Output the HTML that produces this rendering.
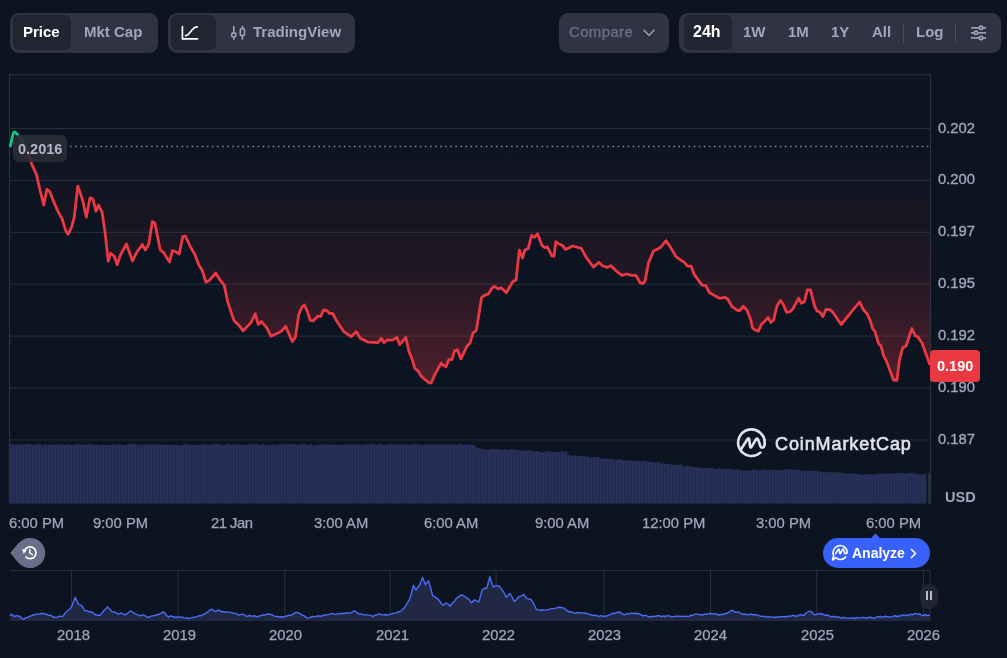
<!DOCTYPE html>
<html><head><meta charset="utf-8">
<style>
*{margin:0;padding:0;box-sizing:border-box}
html,body{width:1007px;height:658px;overflow:hidden;background:#0d1421;font-family:"Liberation Sans",sans-serif;}
div{will-change:transform}
.abs{position:absolute}
.grp{position:absolute;top:13px;height:40px;background:#303344;border-radius:9px}
.sel{position:absolute;top:2px;height:35px;background:#222531;border-radius:6px}
.t{position:absolute;white-space:nowrap;font-weight:bold;font-size:15px;line-height:18px;color:#a1a7bb}
.yl{position:absolute;left:938px;font-size:14.8px;-webkit-text-stroke:0.35px #a1a7bb;line-height:18px;color:#a1a7bb;white-space:nowrap}
.xl{position:absolute;top:514px;font-size:14.8px;-webkit-text-stroke:0.25px #a1a7bb;line-height:18px;color:#a1a7bb;white-space:nowrap}
.nl{position:absolute;top:626px;font-size:14.8px;-webkit-text-stroke:0.25px #a1a7bb;line-height:18px;color:#a1a7bb;white-space:nowrap}
</style></head><body>
<svg width="1007" height="658" viewBox="0 0 1007 658" style="position:absolute;left:0;top:0">
<defs><linearGradient id="rg" x1="0" y1="146" x2="0" y2="383" gradientUnits="userSpaceOnUse"><stop offset="0" stop-color="#ea3943" stop-opacity="0.0"/><stop offset="0.5" stop-color="#ea3943" stop-opacity="0.08"/><stop offset="1" stop-color="#ea3943" stop-opacity="0.3"/></linearGradient></defs>
<path d="M9.5,504 V74.7 H930.5 V504" fill="none" stroke="#30343f" stroke-width="1.1"/>
<line x1="9" y1="128.5" x2="930" y2="128.5" stroke="#2b2f3c" stroke-width="1"/>
<line x1="9" y1="180.4" x2="930" y2="180.4" stroke="#2b2f3c" stroke-width="1"/>
<line x1="9" y1="232.3" x2="930" y2="232.3" stroke="#2b2f3c" stroke-width="1"/>
<line x1="9" y1="284.2" x2="930" y2="284.2" stroke="#2b2f3c" stroke-width="1"/>
<line x1="9" y1="336.1" x2="930" y2="336.1" stroke="#2b2f3c" stroke-width="1"/>
<line x1="9" y1="388.0" x2="930" y2="388.0" stroke="#2b2f3c" stroke-width="1"/>
<line x1="9" y1="439.9" x2="930" y2="439.9" stroke="#2b2f3c" stroke-width="1"/>
<path d="M25,146 L25.0,146.0 L27.0,150.0 L31.1,162.6 L36.5,174.7 L40.1,190.5 L43.8,205.1 L46.9,189.3 L49.8,191.7 L54.7,203.9 L58.4,212.4 L62.0,218.5 L65.7,230.6 L68.1,234.3 L71.7,227.0 L74.2,217.3 L77.8,186.1 L82.7,200.2 L86.3,217.3 L90.0,197.8 L92.9,199.0 L96.0,211.2 L98.5,205.1 L102.1,212.4 L105.0,231.9 L108.2,261.0 L110.6,253.3 L114.3,256.2 L117.2,264.7 L120.4,255.0 L126.4,244.0 L132.5,261.0 L136.2,253.3 L142.3,244.5 L145.4,250.1 L148.8,244.0 L152.4,221.4 L154.9,223.1 L157.3,235.3 L160.2,249.8 L163.4,252.3 L169.5,262.0 L172.4,250.6 L175.5,251.6 L179.2,254.0 L182.8,236.5 L185.3,236.0 L190.1,246.2 L195.0,254.7 L198.6,264.4 L202.3,270.5 L205.9,282.2 L209.6,280.2 L215.7,273.0 L219.3,279.0 L224.2,285.1 L227.8,302.1 L233.9,320.4 L238.8,325.2 L243.1,330.8 L247.3,326.4 L250.9,322.8 L255.3,313.8 L258.2,324.5 L261.4,321.6 L266.7,327.7 L270.9,336.2 L276.4,333.7 L281.3,331.3 L285.7,326.4 L292.3,341.5 L295.4,337.4 L298.8,314.3 L302.0,307.0 L304.4,305.0 L307.3,311.1 L310.2,320.3 L313.4,320.8 L317.5,316.4 L320.7,316.4 L323.6,309.8 L326.7,310.6 L329.7,313.5 L332.8,313.5 L336.5,320.8 L343.8,331.7 L351.1,336.6 L356.4,331.7 L360.3,338.3 L368.1,342.2 L377.8,342.7 L381.5,338.3 L383.9,342.7 L387.5,339.8 L392.4,340.2 L396.8,337.3 L399.7,344.6 L405.8,337.3 L408.9,351.2 L412.3,359.7 L414.8,368.2 L418.4,371.4 L421.6,376.7 L428.9,382.8 L431.3,382.8 L435.0,374.3 L441.0,363.3 L445.9,367.0 L448.8,359.7 L452.0,359.7 L454.4,351.0 L457.3,349.8 L460.9,358.8 L467.0,346.2 L469.9,343.3 L473.1,332.8 L476.3,330.4 L481.6,297.5 L484.0,295.6 L488.4,293.9 L492.6,287.3 L495.0,286.6 L498.1,289.0 L501.1,287.8 L506.4,292.7 L512.7,281.7 L516.1,280.0 L519.3,250.1 L522.5,258.1 L524.9,250.1 L528.3,248.4 L531.5,235.5 L534.6,237.2 L537.5,233.8 L541.9,245.3 L544.8,247.7 L547.3,247.0 L552.1,256.2 L554.1,256.2 L555.8,241.6 L558.9,244.0 L562.3,245.3 L565.5,249.4 L572.8,246.0 L576.4,247.0 L581.3,248.4 L586.2,257.4 L593.5,267.1 L598.8,262.3 L602.4,265.7 L607.3,267.4 L610.9,265.7 L615.8,270.6 L621.9,275.4 L626.7,274.0 L631.6,275.4 L636.0,275.4 L640.1,282.7 L642.6,283.7 L645.0,281.3 L648.6,262.6 L653.5,251.1 L657.1,249.2 L660.8,247.2 L666.1,240.7 L670.5,247.2 L675.9,256.5 L679.0,258.9 L684.6,262.6 L687.5,266.2 L691.2,266.2 L694.3,274.7 L702.1,285.2 L705.8,285.7 L709.4,292.5 L714.3,295.4 L719.6,298.3 L725.2,297.3 L727.7,299.0 L731.8,306.3 L737.4,310.5 L739.8,310.5 L743.5,306.3 L747.1,310.5 L750.8,319.7 L752.3,327.5 L754.6,329.8 L758.4,331.3 L761.4,324.5 L768.2,317.6 L771.0,322.6 L773.6,319.9 L777.1,305.5 L780.4,300.5 L783.1,304.0 L786.5,312.3 L790.3,311.6 L792.6,309.3 L798.6,298.3 L801.4,303.2 L804.4,301.7 L807.4,289.8 L810.5,289.8 L814.6,306.2 L816.9,310.8 L819.9,312.3 L822.9,316.6 L826.0,309.3 L829.8,309.6 L832.8,312.3 L841.2,324.5 L854.2,308.4 L859.7,302.1 L863.4,309.8 L866.8,313.4 L870.1,320.1 L872.6,328.5 L875.1,331.8 L878.5,343.5 L881.0,346.0 L883.5,355.3 L886.8,361.9 L893.5,380.0 L896.9,380.3 L899.4,360.3 L902.7,347.7 L906.1,346.0 L911.9,328.5 L915.3,336.0 L917.8,336.9 L921.9,342.7 L929.5,363.6 L930.0,365.0 L930,146 Z" fill="url(#rg)"/>
<line x1="70" y1="146.5" x2="930" y2="146.5" stroke="#9fb0b8" stroke-width="1.5" stroke-dasharray="1.6 3.47" opacity="0.75"/>
<path d="M10.4,146.0 L12.0,138.5 L13.4,132.6 L15.0,132.0 L17.5,134.6 L22.0,140.0 L25.0,146.0" fill="none" stroke="#16c784" stroke-width="2.8" stroke-linecap="round" stroke-linejoin="round"/>
<path d="M25.0,146.0 L27.0,150.0 L31.1,162.6 L36.5,174.7 L40.1,190.5 L43.8,205.1 L46.9,189.3 L49.8,191.7 L54.7,203.9 L58.4,212.4 L62.0,218.5 L65.7,230.6 L68.1,234.3 L71.7,227.0 L74.2,217.3 L77.8,186.1 L82.7,200.2 L86.3,217.3 L90.0,197.8 L92.9,199.0 L96.0,211.2 L98.5,205.1 L102.1,212.4 L105.0,231.9 L108.2,261.0 L110.6,253.3 L114.3,256.2 L117.2,264.7 L120.4,255.0 L126.4,244.0 L132.5,261.0 L136.2,253.3 L142.3,244.5 L145.4,250.1 L148.8,244.0 L152.4,221.4 L154.9,223.1 L157.3,235.3 L160.2,249.8 L163.4,252.3 L169.5,262.0 L172.4,250.6 L175.5,251.6 L179.2,254.0 L182.8,236.5 L185.3,236.0 L190.1,246.2 L195.0,254.7 L198.6,264.4 L202.3,270.5 L205.9,282.2 L209.6,280.2 L215.7,273.0 L219.3,279.0 L224.2,285.1 L227.8,302.1 L233.9,320.4 L238.8,325.2 L243.1,330.8 L247.3,326.4 L250.9,322.8 L255.3,313.8 L258.2,324.5 L261.4,321.6 L266.7,327.7 L270.9,336.2 L276.4,333.7 L281.3,331.3 L285.7,326.4 L292.3,341.5 L295.4,337.4 L298.8,314.3 L302.0,307.0 L304.4,305.0 L307.3,311.1 L310.2,320.3 L313.4,320.8 L317.5,316.4 L320.7,316.4 L323.6,309.8 L326.7,310.6 L329.7,313.5 L332.8,313.5 L336.5,320.8 L343.8,331.7 L351.1,336.6 L356.4,331.7 L360.3,338.3 L368.1,342.2 L377.8,342.7 L381.5,338.3 L383.9,342.7 L387.5,339.8 L392.4,340.2 L396.8,337.3 L399.7,344.6 L405.8,337.3 L408.9,351.2 L412.3,359.7 L414.8,368.2 L418.4,371.4 L421.6,376.7 L428.9,382.8 L431.3,382.8 L435.0,374.3 L441.0,363.3 L445.9,367.0 L448.8,359.7 L452.0,359.7 L454.4,351.0 L457.3,349.8 L460.9,358.8 L467.0,346.2 L469.9,343.3 L473.1,332.8 L476.3,330.4 L481.6,297.5 L484.0,295.6 L488.4,293.9 L492.6,287.3 L495.0,286.6 L498.1,289.0 L501.1,287.8 L506.4,292.7 L512.7,281.7 L516.1,280.0 L519.3,250.1 L522.5,258.1 L524.9,250.1 L528.3,248.4 L531.5,235.5 L534.6,237.2 L537.5,233.8 L541.9,245.3 L544.8,247.7 L547.3,247.0 L552.1,256.2 L554.1,256.2 L555.8,241.6 L558.9,244.0 L562.3,245.3 L565.5,249.4 L572.8,246.0 L576.4,247.0 L581.3,248.4 L586.2,257.4 L593.5,267.1 L598.8,262.3 L602.4,265.7 L607.3,267.4 L610.9,265.7 L615.8,270.6 L621.9,275.4 L626.7,274.0 L631.6,275.4 L636.0,275.4 L640.1,282.7 L642.6,283.7 L645.0,281.3 L648.6,262.6 L653.5,251.1 L657.1,249.2 L660.8,247.2 L666.1,240.7 L670.5,247.2 L675.9,256.5 L679.0,258.9 L684.6,262.6 L687.5,266.2 L691.2,266.2 L694.3,274.7 L702.1,285.2 L705.8,285.7 L709.4,292.5 L714.3,295.4 L719.6,298.3 L725.2,297.3 L727.7,299.0 L731.8,306.3 L737.4,310.5 L739.8,310.5 L743.5,306.3 L747.1,310.5 L750.8,319.7 L752.3,327.5 L754.6,329.8 L758.4,331.3 L761.4,324.5 L768.2,317.6 L771.0,322.6 L773.6,319.9 L777.1,305.5 L780.4,300.5 L783.1,304.0 L786.5,312.3 L790.3,311.6 L792.6,309.3 L798.6,298.3 L801.4,303.2 L804.4,301.7 L807.4,289.8 L810.5,289.8 L814.6,306.2 L816.9,310.8 L819.9,312.3 L822.9,316.6 L826.0,309.3 L829.8,309.6 L832.8,312.3 L841.2,324.5 L854.2,308.4 L859.7,302.1 L863.4,309.8 L866.8,313.4 L870.1,320.1 L872.6,328.5 L875.1,331.8 L878.5,343.5 L881.0,346.0 L883.5,355.3 L886.8,361.9 L893.5,380.0 L896.9,380.3 L899.4,360.3 L902.7,347.7 L906.1,346.0 L911.9,328.5 L915.3,336.0 L917.8,336.9 L921.9,342.7 L929.5,363.6 L930.0,365.0" fill="none" stroke="#ea3943" stroke-width="2.8" stroke-linejoin="round"/>
<path d="M9,503.5 L9.00,444.3 L12.19,444.3 L12.19,444.7 L15.38,444.7 L15.38,444.4 L18.57,444.4 L18.57,444.7 L21.76,444.7 L21.76,444.8 L24.95,444.8 L24.95,444.1 L28.14,444.1 L28.14,444.0 L31.33,444.0 L31.33,445.0 L34.52,445.0 L34.52,444.3 L37.71,444.3 L37.71,444.3 L40.90,444.3 L40.90,445.2 L44.09,445.2 L44.09,444.6 L47.28,444.6 L47.28,445.0 L50.47,445.0 L50.47,444.6 L53.66,444.6 L53.66,444.8 L56.85,444.8 L56.85,444.2 L60.04,444.2 L60.04,444.8 L63.23,444.8 L63.23,445.0 L66.42,445.0 L66.42,444.6 L69.61,444.6 L69.61,444.9 L72.80,444.9 L72.80,444.8 L75.99,444.8 L75.99,444.1 L79.18,444.1 L79.18,444.9 L82.37,444.9 L82.37,444.7 L85.56,444.7 L85.56,444.4 L88.75,444.4 L88.75,444.0 L91.94,444.0 L91.94,445.0 L95.13,445.0 L95.13,444.6 L98.32,444.6 L98.32,444.9 L101.51,444.9 L101.51,445.1 L104.70,445.1 L104.70,444.9 L107.89,444.9 L107.89,445.1 L111.08,445.1 L111.08,444.5 L114.27,444.5 L114.27,445.0 L117.46,445.0 L117.46,444.5 L120.65,444.5 L120.65,445.1 L123.84,445.1 L123.84,445.1 L127.03,445.1 L127.03,444.1 L130.22,444.1 L130.22,444.2 L133.41,444.2 L133.41,444.3 L136.60,444.3 L136.60,445.2 L139.79,445.2 L139.79,444.5 L142.98,444.5 L142.98,444.8 L146.17,444.8 L146.17,444.4 L149.36,444.4 L149.36,444.6 L152.55,444.6 L152.55,444.5 L155.74,444.5 L155.74,444.4 L158.93,444.4 L158.93,444.7 L162.12,444.7 L162.12,444.7 L165.31,444.7 L165.31,445.1 L168.50,445.1 L168.50,444.8 L171.69,444.8 L171.69,445.1 L174.88,445.1 L174.88,445.0 L178.07,445.0 L178.07,445.2 L181.26,445.2 L181.26,444.8 L184.45,444.8 L184.45,444.2 L187.64,444.2 L187.64,445.0 L190.83,445.0 L190.83,445.2 L194.02,445.2 L194.02,445.1 L197.21,445.1 L197.21,444.7 L200.40,444.7 L200.40,444.9 L203.59,444.9 L203.59,444.3 L206.78,444.3 L206.78,445.0 L209.97,445.0 L209.97,444.7 L213.16,444.7 L213.16,444.3 L216.35,444.3 L216.35,444.1 L219.54,444.1 L219.54,445.0 L222.73,445.0 L222.73,445.2 L225.92,445.2 L225.92,444.1 L229.11,444.1 L229.11,445.0 L232.30,445.0 L232.30,444.5 L235.49,444.5 L235.49,444.2 L238.68,444.2 L238.68,444.4 L241.87,444.4 L241.87,444.9 L245.06,444.9 L245.06,445.0 L248.25,445.0 L248.25,444.1 L251.44,444.1 L251.44,444.7 L254.63,444.7 L254.63,444.1 L257.82,444.1 L257.82,444.9 L261.01,444.9 L261.01,444.4 L264.20,444.4 L264.20,445.1 L267.39,445.1 L267.39,445.2 L270.58,445.2 L270.58,444.6 L273.77,444.6 L273.77,445.2 L276.96,445.2 L276.96,444.4 L280.15,444.4 L280.15,444.1 L283.34,444.1 L283.34,444.7 L286.53,444.7 L286.53,444.0 L289.72,444.0 L289.72,444.2 L292.91,444.2 L292.91,444.5 L296.10,444.5 L296.10,444.7 L299.29,444.7 L299.29,444.2 L302.48,444.2 L302.48,444.1 L305.67,444.1 L305.67,445.0 L308.86,445.0 L308.86,444.4 L312.05,444.4 L312.05,445.2 L315.24,445.2 L315.24,445.1 L318.43,445.1 L318.43,444.5 L321.62,444.5 L321.62,444.6 L324.81,444.6 L324.81,444.6 L328.00,444.6 L328.00,444.8 L331.19,444.8 L331.19,444.7 L334.38,444.7 L334.38,444.7 L337.57,444.7 L337.57,444.7 L340.76,444.7 L340.76,445.1 L343.95,445.1 L343.95,444.6 L347.14,444.6 L347.14,444.5 L350.33,444.5 L350.33,444.9 L353.52,444.9 L353.52,444.3 L356.71,444.3 L356.71,444.4 L359.90,444.4 L359.90,445.2 L363.09,445.2 L363.09,444.6 L366.28,444.6 L366.28,444.7 L369.47,444.7 L369.47,444.0 L372.66,444.0 L372.66,444.5 L375.85,444.5 L375.85,444.7 L379.04,444.7 L379.04,444.0 L382.23,444.0 L382.23,444.7 L385.42,444.7 L385.42,444.8 L388.61,444.8 L388.61,444.1 L391.80,444.1 L391.80,444.8 L394.99,444.8 L394.99,444.6 L398.18,444.6 L398.18,444.8 L401.37,444.8 L401.37,444.4 L404.56,444.4 L404.56,444.8 L407.75,444.8 L407.75,444.9 L410.94,444.9 L410.94,444.0 L414.13,444.0 L414.13,444.1 L417.32,444.1 L417.32,444.8 L420.51,444.8 L420.51,445.2 L423.70,445.2 L423.70,444.3 L426.89,444.3 L426.89,444.5 L430.08,444.5 L430.08,444.7 L433.27,444.7 L433.27,444.4 L436.46,444.4 L436.46,444.4 L439.65,444.4 L439.65,444.4 L442.84,444.4 L442.84,444.4 L446.03,444.4 L446.03,444.7 L449.22,444.7 L449.22,444.4 L452.41,444.4 L452.41,444.5 L455.60,444.5 L455.60,444.9 L458.79,444.9 L458.79,444.0 L461.98,444.0 L461.98,444.7 L465.17,444.7 L465.17,444.9 L468.36,444.9 L468.36,444.4 L471.55,444.4 L471.55,445.0 L474.74,445.0 L474.74,447.3 L477.93,447.3 L477.93,448.2 L481.12,448.2 L481.12,449.1 L484.31,449.1 L484.31,449.4 L487.50,449.4 L487.50,449.7 L490.69,449.7 L490.69,449.0 L493.88,449.0 L493.88,449.3 L497.07,449.3 L497.07,449.3 L500.26,449.3 L500.26,449.9 L503.45,449.9 L503.45,449.4 L506.64,449.4 L506.64,449.9 L509.83,449.9 L509.83,449.1 L513.02,449.1 L513.02,449.5 L516.21,449.5 L516.21,450.1 L519.40,450.1 L519.40,450.7 L522.59,450.7 L522.59,450.4 L525.78,450.4 L525.78,450.3 L528.97,450.3 L528.97,450.5 L532.16,450.5 L532.16,451.2 L535.35,451.2 L535.35,451.0 L538.54,451.0 L538.54,452.0 L541.73,452.0 L541.73,452.2 L544.92,452.2 L544.92,451.4 L548.11,451.4 L548.11,451.5 L551.30,451.5 L551.30,452.2 L554.49,452.2 L554.49,452.0 L557.68,452.0 L557.68,452.2 L560.87,452.2 L560.87,451.6 L564.06,451.6 L564.06,451.5 L567.25,451.5 L567.25,454.9 L570.44,454.9 L570.44,455.7 L573.63,455.7 L573.63,455.4 L576.82,455.4 L576.82,455.8 L580.01,455.8 L580.01,456.1 L583.20,456.1 L583.20,456.4 L586.39,456.4 L586.39,456.7 L589.58,456.7 L589.58,457.6 L592.77,457.6 L592.77,456.9 L595.96,456.9 L595.96,457.0 L599.15,457.0 L599.15,458.5 L602.34,458.5 L602.34,458.7 L605.53,458.7 L605.53,459.1 L608.72,459.1 L608.72,458.7 L611.91,458.7 L611.91,459.6 L615.10,459.6 L615.10,459.8 L618.29,459.8 L618.29,459.3 L621.48,459.3 L621.48,460.2 L624.67,460.2 L624.67,460.5 L627.86,460.5 L627.86,460.6 L631.05,460.6 L631.05,460.7 L634.24,460.7 L634.24,460.6 L637.43,460.6 L637.43,461.0 L640.62,461.0 L640.62,461.1 L643.81,461.1 L643.81,461.1 L647.00,461.1 L647.00,462.0 L650.19,462.0 L650.19,461.9 L653.38,461.9 L653.38,462.8 L656.57,462.8 L656.57,462.1 L659.76,462.1 L659.76,463.4 L662.95,463.4 L662.95,463.4 L666.14,463.4 L666.14,464.1 L669.33,464.1 L669.33,464.5 L672.52,464.5 L672.52,464.9 L675.71,464.9 L675.71,464.9 L678.90,464.9 L678.90,464.6 L682.09,464.6 L682.09,465.9 L685.28,465.9 L685.28,465.6 L688.47,465.6 L688.47,466.1 L691.66,466.1 L691.66,467.0 L694.85,467.0 L694.85,467.2 L698.04,467.2 L698.04,467.5 L701.23,467.5 L701.23,468.3 L704.42,468.3 L704.42,468.1 L707.61,468.1 L707.61,467.9 L710.80,467.9 L710.80,468.0 L713.99,468.0 L713.99,468.9 L717.18,468.9 L717.18,468.6 L720.37,468.6 L720.37,469.1 L723.56,469.1 L723.56,468.8 L726.75,468.8 L726.75,468.7 L729.94,468.7 L729.94,469.3 L733.13,469.3 L733.13,469.8 L736.32,469.8 L736.32,469.2 L739.51,469.2 L739.51,470.1 L742.70,470.1 L742.70,470.4 L745.89,470.4 L745.89,470.4 L749.08,470.4 L749.08,470.4 L752.27,470.4 L752.27,469.4 L755.46,469.4 L755.46,470.2 L758.65,470.2 L758.65,470.5 L761.84,470.5 L761.84,469.5 L765.03,469.5 L765.03,469.8 L768.22,469.8 L768.22,469.8 L771.41,469.8 L771.41,470.1 L774.60,470.1 L774.60,470.0 L777.79,470.0 L777.79,470.1 L780.98,470.1 L780.98,470.5 L784.17,470.5 L784.17,469.5 L787.36,469.5 L787.36,469.6 L790.55,469.6 L790.55,469.7 L793.74,469.7 L793.74,469.7 L796.93,469.7 L796.93,469.7 L800.12,469.7 L800.12,470.8 L803.31,470.8 L803.31,470.9 L806.50,470.9 L806.50,470.2 L809.69,470.2 L809.69,470.9 L812.88,470.9 L812.88,470.9 L816.07,470.9 L816.07,471.2 L819.26,471.2 L819.26,471.5 L822.45,471.5 L822.45,472.1 L825.64,472.1 L825.64,472.2 L828.83,472.2 L828.83,472.2 L832.02,472.2 L832.02,472.2 L835.21,472.2 L835.21,472.6 L838.40,472.6 L838.40,472.6 L841.59,472.6 L841.59,473.4 L844.78,473.4 L844.78,473.8 L847.97,473.8 L847.97,473.6 L851.16,473.6 L851.16,473.5 L854.35,473.5 L854.35,473.9 L857.54,473.9 L857.54,474.3 L860.73,474.3 L860.73,474.7 L863.92,474.7 L863.92,474.8 L867.11,474.8 L867.11,474.1 L870.30,474.1 L870.30,474.5 L873.49,474.5 L873.49,474.2 L876.68,474.2 L876.68,473.8 L879.87,473.8 L879.87,473.7 L883.06,473.7 L883.06,473.7 L886.25,473.7 L886.25,473.8 L889.44,473.8 L889.44,473.4 L892.63,473.4 L892.63,473.6 L895.82,473.6 L895.82,473.2 L899.01,473.2 L899.01,473.0 L902.20,473.0 L902.20,473.4 L905.39,473.4 L905.39,473.7 L908.58,473.7 L908.58,473.1 L911.77,473.1 L911.77,473.6 L914.96,473.6 L914.96,473.7 L918.15,473.7 L918.15,474.4 L921.34,474.4 L921.34,474.5 L924.53,474.5 L924.53,474.0 L926.40,474.0 L926.4,503.5 Z" fill="#29315a"/>
<g stroke="#1c2340" stroke-width="0.7" opacity="0.8"><line x1="9.00" y1="444.3" x2="9.00" y2="503.5"/><line x1="12.19" y1="444.7" x2="12.19" y2="503.5"/><line x1="15.38" y1="444.4" x2="15.38" y2="503.5"/><line x1="18.57" y1="444.7" x2="18.57" y2="503.5"/><line x1="21.76" y1="444.8" x2="21.76" y2="503.5"/><line x1="24.95" y1="444.1" x2="24.95" y2="503.5"/><line x1="28.14" y1="444.0" x2="28.14" y2="503.5"/><line x1="31.33" y1="445.0" x2="31.33" y2="503.5"/><line x1="34.52" y1="444.3" x2="34.52" y2="503.5"/><line x1="37.71" y1="444.3" x2="37.71" y2="503.5"/><line x1="40.90" y1="445.2" x2="40.90" y2="503.5"/><line x1="44.09" y1="444.6" x2="44.09" y2="503.5"/><line x1="47.28" y1="445.0" x2="47.28" y2="503.5"/><line x1="50.47" y1="444.6" x2="50.47" y2="503.5"/><line x1="53.66" y1="444.8" x2="53.66" y2="503.5"/><line x1="56.85" y1="444.2" x2="56.85" y2="503.5"/><line x1="60.04" y1="444.8" x2="60.04" y2="503.5"/><line x1="63.23" y1="445.0" x2="63.23" y2="503.5"/><line x1="66.42" y1="444.6" x2="66.42" y2="503.5"/><line x1="69.61" y1="444.9" x2="69.61" y2="503.5"/><line x1="72.80" y1="444.8" x2="72.80" y2="503.5"/><line x1="75.99" y1="444.1" x2="75.99" y2="503.5"/><line x1="79.18" y1="444.9" x2="79.18" y2="503.5"/><line x1="82.37" y1="444.7" x2="82.37" y2="503.5"/><line x1="85.56" y1="444.4" x2="85.56" y2="503.5"/><line x1="88.75" y1="444.0" x2="88.75" y2="503.5"/><line x1="91.94" y1="445.0" x2="91.94" y2="503.5"/><line x1="95.13" y1="444.6" x2="95.13" y2="503.5"/><line x1="98.32" y1="444.9" x2="98.32" y2="503.5"/><line x1="101.51" y1="445.1" x2="101.51" y2="503.5"/><line x1="104.70" y1="444.9" x2="104.70" y2="503.5"/><line x1="107.89" y1="445.1" x2="107.89" y2="503.5"/><line x1="111.08" y1="444.5" x2="111.08" y2="503.5"/><line x1="114.27" y1="445.0" x2="114.27" y2="503.5"/><line x1="117.46" y1="444.5" x2="117.46" y2="503.5"/><line x1="120.65" y1="445.1" x2="120.65" y2="503.5"/><line x1="123.84" y1="445.1" x2="123.84" y2="503.5"/><line x1="127.03" y1="444.1" x2="127.03" y2="503.5"/><line x1="130.22" y1="444.2" x2="130.22" y2="503.5"/><line x1="133.41" y1="444.3" x2="133.41" y2="503.5"/><line x1="136.60" y1="445.2" x2="136.60" y2="503.5"/><line x1="139.79" y1="444.5" x2="139.79" y2="503.5"/><line x1="142.98" y1="444.8" x2="142.98" y2="503.5"/><line x1="146.17" y1="444.4" x2="146.17" y2="503.5"/><line x1="149.36" y1="444.6" x2="149.36" y2="503.5"/><line x1="152.55" y1="444.5" x2="152.55" y2="503.5"/><line x1="155.74" y1="444.4" x2="155.74" y2="503.5"/><line x1="158.93" y1="444.7" x2="158.93" y2="503.5"/><line x1="162.12" y1="444.7" x2="162.12" y2="503.5"/><line x1="165.31" y1="445.1" x2="165.31" y2="503.5"/><line x1="168.50" y1="444.8" x2="168.50" y2="503.5"/><line x1="171.69" y1="445.1" x2="171.69" y2="503.5"/><line x1="174.88" y1="445.0" x2="174.88" y2="503.5"/><line x1="178.07" y1="445.2" x2="178.07" y2="503.5"/><line x1="181.26" y1="444.8" x2="181.26" y2="503.5"/><line x1="184.45" y1="444.2" x2="184.45" y2="503.5"/><line x1="187.64" y1="445.0" x2="187.64" y2="503.5"/><line x1="190.83" y1="445.2" x2="190.83" y2="503.5"/><line x1="194.02" y1="445.1" x2="194.02" y2="503.5"/><line x1="197.21" y1="444.7" x2="197.21" y2="503.5"/><line x1="200.40" y1="444.9" x2="200.40" y2="503.5"/><line x1="203.59" y1="444.3" x2="203.59" y2="503.5"/><line x1="206.78" y1="445.0" x2="206.78" y2="503.5"/><line x1="209.97" y1="444.7" x2="209.97" y2="503.5"/><line x1="213.16" y1="444.3" x2="213.16" y2="503.5"/><line x1="216.35" y1="444.1" x2="216.35" y2="503.5"/><line x1="219.54" y1="445.0" x2="219.54" y2="503.5"/><line x1="222.73" y1="445.2" x2="222.73" y2="503.5"/><line x1="225.92" y1="444.1" x2="225.92" y2="503.5"/><line x1="229.11" y1="445.0" x2="229.11" y2="503.5"/><line x1="232.30" y1="444.5" x2="232.30" y2="503.5"/><line x1="235.49" y1="444.2" x2="235.49" y2="503.5"/><line x1="238.68" y1="444.4" x2="238.68" y2="503.5"/><line x1="241.87" y1="444.9" x2="241.87" y2="503.5"/><line x1="245.06" y1="445.0" x2="245.06" y2="503.5"/><line x1="248.25" y1="444.1" x2="248.25" y2="503.5"/><line x1="251.44" y1="444.7" x2="251.44" y2="503.5"/><line x1="254.63" y1="444.1" x2="254.63" y2="503.5"/><line x1="257.82" y1="444.9" x2="257.82" y2="503.5"/><line x1="261.01" y1="444.4" x2="261.01" y2="503.5"/><line x1="264.20" y1="445.1" x2="264.20" y2="503.5"/><line x1="267.39" y1="445.2" x2="267.39" y2="503.5"/><line x1="270.58" y1="444.6" x2="270.58" y2="503.5"/><line x1="273.77" y1="445.2" x2="273.77" y2="503.5"/><line x1="276.96" y1="444.4" x2="276.96" y2="503.5"/><line x1="280.15" y1="444.1" x2="280.15" y2="503.5"/><line x1="283.34" y1="444.7" x2="283.34" y2="503.5"/><line x1="286.53" y1="444.0" x2="286.53" y2="503.5"/><line x1="289.72" y1="444.2" x2="289.72" y2="503.5"/><line x1="292.91" y1="444.5" x2="292.91" y2="503.5"/><line x1="296.10" y1="444.7" x2="296.10" y2="503.5"/><line x1="299.29" y1="444.2" x2="299.29" y2="503.5"/><line x1="302.48" y1="444.1" x2="302.48" y2="503.5"/><line x1="305.67" y1="445.0" x2="305.67" y2="503.5"/><line x1="308.86" y1="444.4" x2="308.86" y2="503.5"/><line x1="312.05" y1="445.2" x2="312.05" y2="503.5"/><line x1="315.24" y1="445.1" x2="315.24" y2="503.5"/><line x1="318.43" y1="444.5" x2="318.43" y2="503.5"/><line x1="321.62" y1="444.6" x2="321.62" y2="503.5"/><line x1="324.81" y1="444.6" x2="324.81" y2="503.5"/><line x1="328.00" y1="444.8" x2="328.00" y2="503.5"/><line x1="331.19" y1="444.7" x2="331.19" y2="503.5"/><line x1="334.38" y1="444.7" x2="334.38" y2="503.5"/><line x1="337.57" y1="444.7" x2="337.57" y2="503.5"/><line x1="340.76" y1="445.1" x2="340.76" y2="503.5"/><line x1="343.95" y1="444.6" x2="343.95" y2="503.5"/><line x1="347.14" y1="444.5" x2="347.14" y2="503.5"/><line x1="350.33" y1="444.9" x2="350.33" y2="503.5"/><line x1="353.52" y1="444.3" x2="353.52" y2="503.5"/><line x1="356.71" y1="444.4" x2="356.71" y2="503.5"/><line x1="359.90" y1="445.2" x2="359.90" y2="503.5"/><line x1="363.09" y1="444.6" x2="363.09" y2="503.5"/><line x1="366.28" y1="444.7" x2="366.28" y2="503.5"/><line x1="369.47" y1="444.0" x2="369.47" y2="503.5"/><line x1="372.66" y1="444.5" x2="372.66" y2="503.5"/><line x1="375.85" y1="444.7" x2="375.85" y2="503.5"/><line x1="379.04" y1="444.0" x2="379.04" y2="503.5"/><line x1="382.23" y1="444.7" x2="382.23" y2="503.5"/><line x1="385.42" y1="444.8" x2="385.42" y2="503.5"/><line x1="388.61" y1="444.1" x2="388.61" y2="503.5"/><line x1="391.80" y1="444.8" x2="391.80" y2="503.5"/><line x1="394.99" y1="444.6" x2="394.99" y2="503.5"/><line x1="398.18" y1="444.8" x2="398.18" y2="503.5"/><line x1="401.37" y1="444.4" x2="401.37" y2="503.5"/><line x1="404.56" y1="444.8" x2="404.56" y2="503.5"/><line x1="407.75" y1="444.9" x2="407.75" y2="503.5"/><line x1="410.94" y1="444.0" x2="410.94" y2="503.5"/><line x1="414.13" y1="444.1" x2="414.13" y2="503.5"/><line x1="417.32" y1="444.8" x2="417.32" y2="503.5"/><line x1="420.51" y1="445.2" x2="420.51" y2="503.5"/><line x1="423.70" y1="444.3" x2="423.70" y2="503.5"/><line x1="426.89" y1="444.5" x2="426.89" y2="503.5"/><line x1="430.08" y1="444.7" x2="430.08" y2="503.5"/><line x1="433.27" y1="444.4" x2="433.27" y2="503.5"/><line x1="436.46" y1="444.4" x2="436.46" y2="503.5"/><line x1="439.65" y1="444.4" x2="439.65" y2="503.5"/><line x1="442.84" y1="444.4" x2="442.84" y2="503.5"/><line x1="446.03" y1="444.7" x2="446.03" y2="503.5"/><line x1="449.22" y1="444.4" x2="449.22" y2="503.5"/><line x1="452.41" y1="444.5" x2="452.41" y2="503.5"/><line x1="455.60" y1="444.9" x2="455.60" y2="503.5"/><line x1="458.79" y1="444.0" x2="458.79" y2="503.5"/><line x1="461.98" y1="444.7" x2="461.98" y2="503.5"/><line x1="465.17" y1="444.9" x2="465.17" y2="503.5"/><line x1="468.36" y1="444.4" x2="468.36" y2="503.5"/><line x1="471.55" y1="445.0" x2="471.55" y2="503.5"/><line x1="474.74" y1="447.3" x2="474.74" y2="503.5"/><line x1="477.93" y1="448.2" x2="477.93" y2="503.5"/><line x1="481.12" y1="449.1" x2="481.12" y2="503.5"/><line x1="484.31" y1="449.4" x2="484.31" y2="503.5"/><line x1="487.50" y1="449.7" x2="487.50" y2="503.5"/><line x1="490.69" y1="449.0" x2="490.69" y2="503.5"/><line x1="493.88" y1="449.3" x2="493.88" y2="503.5"/><line x1="497.07" y1="449.3" x2="497.07" y2="503.5"/><line x1="500.26" y1="449.9" x2="500.26" y2="503.5"/><line x1="503.45" y1="449.4" x2="503.45" y2="503.5"/><line x1="506.64" y1="449.9" x2="506.64" y2="503.5"/><line x1="509.83" y1="449.1" x2="509.83" y2="503.5"/><line x1="513.02" y1="449.5" x2="513.02" y2="503.5"/><line x1="516.21" y1="450.1" x2="516.21" y2="503.5"/><line x1="519.40" y1="450.7" x2="519.40" y2="503.5"/><line x1="522.59" y1="450.4" x2="522.59" y2="503.5"/><line x1="525.78" y1="450.3" x2="525.78" y2="503.5"/><line x1="528.97" y1="450.5" x2="528.97" y2="503.5"/><line x1="532.16" y1="451.2" x2="532.16" y2="503.5"/><line x1="535.35" y1="451.0" x2="535.35" y2="503.5"/><line x1="538.54" y1="452.0" x2="538.54" y2="503.5"/><line x1="541.73" y1="452.2" x2="541.73" y2="503.5"/><line x1="544.92" y1="451.4" x2="544.92" y2="503.5"/><line x1="548.11" y1="451.5" x2="548.11" y2="503.5"/><line x1="551.30" y1="452.2" x2="551.30" y2="503.5"/><line x1="554.49" y1="452.0" x2="554.49" y2="503.5"/><line x1="557.68" y1="452.2" x2="557.68" y2="503.5"/><line x1="560.87" y1="451.6" x2="560.87" y2="503.5"/><line x1="564.06" y1="451.5" x2="564.06" y2="503.5"/><line x1="567.25" y1="454.9" x2="567.25" y2="503.5"/><line x1="570.44" y1="455.7" x2="570.44" y2="503.5"/><line x1="573.63" y1="455.4" x2="573.63" y2="503.5"/><line x1="576.82" y1="455.8" x2="576.82" y2="503.5"/><line x1="580.01" y1="456.1" x2="580.01" y2="503.5"/><line x1="583.20" y1="456.4" x2="583.20" y2="503.5"/><line x1="586.39" y1="456.7" x2="586.39" y2="503.5"/><line x1="589.58" y1="457.6" x2="589.58" y2="503.5"/><line x1="592.77" y1="456.9" x2="592.77" y2="503.5"/><line x1="595.96" y1="457.0" x2="595.96" y2="503.5"/><line x1="599.15" y1="458.5" x2="599.15" y2="503.5"/><line x1="602.34" y1="458.7" x2="602.34" y2="503.5"/><line x1="605.53" y1="459.1" x2="605.53" y2="503.5"/><line x1="608.72" y1="458.7" x2="608.72" y2="503.5"/><line x1="611.91" y1="459.6" x2="611.91" y2="503.5"/><line x1="615.10" y1="459.8" x2="615.10" y2="503.5"/><line x1="618.29" y1="459.3" x2="618.29" y2="503.5"/><line x1="621.48" y1="460.2" x2="621.48" y2="503.5"/><line x1="624.67" y1="460.5" x2="624.67" y2="503.5"/><line x1="627.86" y1="460.6" x2="627.86" y2="503.5"/><line x1="631.05" y1="460.7" x2="631.05" y2="503.5"/><line x1="634.24" y1="460.6" x2="634.24" y2="503.5"/><line x1="637.43" y1="461.0" x2="637.43" y2="503.5"/><line x1="640.62" y1="461.1" x2="640.62" y2="503.5"/><line x1="643.81" y1="461.1" x2="643.81" y2="503.5"/><line x1="647.00" y1="462.0" x2="647.00" y2="503.5"/><line x1="650.19" y1="461.9" x2="650.19" y2="503.5"/><line x1="653.38" y1="462.8" x2="653.38" y2="503.5"/><line x1="656.57" y1="462.1" x2="656.57" y2="503.5"/><line x1="659.76" y1="463.4" x2="659.76" y2="503.5"/><line x1="662.95" y1="463.4" x2="662.95" y2="503.5"/><line x1="666.14" y1="464.1" x2="666.14" y2="503.5"/><line x1="669.33" y1="464.5" x2="669.33" y2="503.5"/><line x1="672.52" y1="464.9" x2="672.52" y2="503.5"/><line x1="675.71" y1="464.9" x2="675.71" y2="503.5"/><line x1="678.90" y1="464.6" x2="678.90" y2="503.5"/><line x1="682.09" y1="465.9" x2="682.09" y2="503.5"/><line x1="685.28" y1="465.6" x2="685.28" y2="503.5"/><line x1="688.47" y1="466.1" x2="688.47" y2="503.5"/><line x1="691.66" y1="467.0" x2="691.66" y2="503.5"/><line x1="694.85" y1="467.2" x2="694.85" y2="503.5"/><line x1="698.04" y1="467.5" x2="698.04" y2="503.5"/><line x1="701.23" y1="468.3" x2="701.23" y2="503.5"/><line x1="704.42" y1="468.1" x2="704.42" y2="503.5"/><line x1="707.61" y1="467.9" x2="707.61" y2="503.5"/><line x1="710.80" y1="468.0" x2="710.80" y2="503.5"/><line x1="713.99" y1="468.9" x2="713.99" y2="503.5"/><line x1="717.18" y1="468.6" x2="717.18" y2="503.5"/><line x1="720.37" y1="469.1" x2="720.37" y2="503.5"/><line x1="723.56" y1="468.8" x2="723.56" y2="503.5"/><line x1="726.75" y1="468.7" x2="726.75" y2="503.5"/><line x1="729.94" y1="469.3" x2="729.94" y2="503.5"/><line x1="733.13" y1="469.8" x2="733.13" y2="503.5"/><line x1="736.32" y1="469.2" x2="736.32" y2="503.5"/><line x1="739.51" y1="470.1" x2="739.51" y2="503.5"/><line x1="742.70" y1="470.4" x2="742.70" y2="503.5"/><line x1="745.89" y1="470.4" x2="745.89" y2="503.5"/><line x1="749.08" y1="470.4" x2="749.08" y2="503.5"/><line x1="752.27" y1="469.4" x2="752.27" y2="503.5"/><line x1="755.46" y1="470.2" x2="755.46" y2="503.5"/><line x1="758.65" y1="470.5" x2="758.65" y2="503.5"/><line x1="761.84" y1="469.5" x2="761.84" y2="503.5"/><line x1="765.03" y1="469.8" x2="765.03" y2="503.5"/><line x1="768.22" y1="469.8" x2="768.22" y2="503.5"/><line x1="771.41" y1="470.1" x2="771.41" y2="503.5"/><line x1="774.60" y1="470.0" x2="774.60" y2="503.5"/><line x1="777.79" y1="470.1" x2="777.79" y2="503.5"/><line x1="780.98" y1="470.5" x2="780.98" y2="503.5"/><line x1="784.17" y1="469.5" x2="784.17" y2="503.5"/><line x1="787.36" y1="469.6" x2="787.36" y2="503.5"/><line x1="790.55" y1="469.7" x2="790.55" y2="503.5"/><line x1="793.74" y1="469.7" x2="793.74" y2="503.5"/><line x1="796.93" y1="469.7" x2="796.93" y2="503.5"/><line x1="800.12" y1="470.8" x2="800.12" y2="503.5"/><line x1="803.31" y1="470.9" x2="803.31" y2="503.5"/><line x1="806.50" y1="470.2" x2="806.50" y2="503.5"/><line x1="809.69" y1="470.9" x2="809.69" y2="503.5"/><line x1="812.88" y1="470.9" x2="812.88" y2="503.5"/><line x1="816.07" y1="471.2" x2="816.07" y2="503.5"/><line x1="819.26" y1="471.5" x2="819.26" y2="503.5"/><line x1="822.45" y1="472.1" x2="822.45" y2="503.5"/><line x1="825.64" y1="472.2" x2="825.64" y2="503.5"/><line x1="828.83" y1="472.2" x2="828.83" y2="503.5"/><line x1="832.02" y1="472.2" x2="832.02" y2="503.5"/><line x1="835.21" y1="472.6" x2="835.21" y2="503.5"/><line x1="838.40" y1="472.6" x2="838.40" y2="503.5"/><line x1="841.59" y1="473.4" x2="841.59" y2="503.5"/><line x1="844.78" y1="473.8" x2="844.78" y2="503.5"/><line x1="847.97" y1="473.6" x2="847.97" y2="503.5"/><line x1="851.16" y1="473.5" x2="851.16" y2="503.5"/><line x1="854.35" y1="473.9" x2="854.35" y2="503.5"/><line x1="857.54" y1="474.3" x2="857.54" y2="503.5"/><line x1="860.73" y1="474.7" x2="860.73" y2="503.5"/><line x1="863.92" y1="474.8" x2="863.92" y2="503.5"/><line x1="867.11" y1="474.1" x2="867.11" y2="503.5"/><line x1="870.30" y1="474.5" x2="870.30" y2="503.5"/><line x1="873.49" y1="474.2" x2="873.49" y2="503.5"/><line x1="876.68" y1="473.8" x2="876.68" y2="503.5"/><line x1="879.87" y1="473.7" x2="879.87" y2="503.5"/><line x1="883.06" y1="473.7" x2="883.06" y2="503.5"/><line x1="886.25" y1="473.8" x2="886.25" y2="503.5"/><line x1="889.44" y1="473.4" x2="889.44" y2="503.5"/><line x1="892.63" y1="473.6" x2="892.63" y2="503.5"/><line x1="895.82" y1="473.2" x2="895.82" y2="503.5"/><line x1="899.01" y1="473.0" x2="899.01" y2="503.5"/><line x1="902.20" y1="473.4" x2="902.20" y2="503.5"/><line x1="905.39" y1="473.7" x2="905.39" y2="503.5"/><line x1="908.58" y1="473.1" x2="908.58" y2="503.5"/><line x1="911.77" y1="473.6" x2="911.77" y2="503.5"/><line x1="914.96" y1="473.7" x2="914.96" y2="503.5"/><line x1="918.15" y1="474.4" x2="918.15" y2="503.5"/><line x1="921.34" y1="474.5" x2="921.34" y2="503.5"/><line x1="924.53" y1="474.0" x2="924.53" y2="503.5"/></g>
<rect x="928.2" y="473" width="2.3" height="30.5" fill="#2c3048"/>
<line x1="10" y1="570.5" x2="930" y2="570.5" stroke="#2b2f3c" stroke-width="1"/>
<line x1="71.5" y1="571" x2="71.5" y2="621" stroke="#2b2f3c" stroke-width="1"/>
<line x1="178" y1="571" x2="178" y2="621" stroke="#2b2f3c" stroke-width="1"/>
<line x1="284.8" y1="571" x2="284.8" y2="621" stroke="#2b2f3c" stroke-width="1"/>
<line x1="390.2" y1="571" x2="390.2" y2="621" stroke="#2b2f3c" stroke-width="1"/>
<line x1="496.2" y1="571" x2="496.2" y2="621" stroke="#2b2f3c" stroke-width="1"/>
<line x1="604.2" y1="571" x2="604.2" y2="621" stroke="#2b2f3c" stroke-width="1"/>
<line x1="710.5" y1="571" x2="710.5" y2="621" stroke="#2b2f3c" stroke-width="1"/>
<line x1="816.7" y1="571" x2="816.7" y2="621" stroke="#2b2f3c" stroke-width="1"/>
<line x1="923.5" y1="571" x2="923.5" y2="621" stroke="#2b2f3c" stroke-width="1"/>
<line x1="930" y1="571" x2="930" y2="621" stroke="#2b2f3c" stroke-width="1"/>
<path d="M10.0,615.8 L11.4,614.1 L14.3,616.5 L16.1,615.9 L17.9,615.8 L19.9,616.5 L21.8,618.3 L23.8,619.3 L25.6,617.8 L27.4,617.6 L29.2,616.5 L31.0,615.8 L32.8,614.8 L34.5,615.0 L36.3,613.9 L38.1,614.1 L39.8,614.0 L41.5,613.5 L43.1,613.5 L44.8,614.0 L46.5,614.1 L48.3,615.3 L50.0,615.1 L51.8,616.0 L53.6,617.2 L55.2,617.1 L56.8,617.4 L58.4,616.6 L60.0,616.1 L61.6,616.7 L63.2,615.8 L65.6,612.5 L67.9,610.5 L69.7,609.2 L71.5,606.9 L73.3,601.9 L75.1,597.4 L76.8,600.5 L78.6,604.6 L80.4,604.9 L82.2,606.2 L84.6,610.5 L86.6,610.6 L88.6,611.7 L90.6,611.7 L92.9,612.8 L95.3,614.8 L97.7,615.2 L100.1,615.3 L101.9,613.3 L103.7,611.0 L105.7,608.8 L107.7,606.9 L109.8,609.4 L112.0,611.7 L114.0,611.9 L116.0,612.7 L118.0,614.1 L120.0,613.3 L122.0,613.4 L125.1,614.8 L126.9,613.8 L128.8,612.2 L130.6,611.0 L132.3,611.8 L134.1,613.2 L135.8,614.1 L138.2,614.9 L140.6,615.8 L143.0,614.8 L144.6,615.3 L146.2,616.8 L147.8,617.2 L149.7,617.0 L151.6,615.9 L153.5,615.9 L155.4,615.3 L157.3,614.8 L159.3,614.3 L161.3,613.1 L163.3,611.7 L165.1,613.5 L166.8,615.8 L168.7,616.8 L170.6,615.8 L172.6,616.5 L174.5,617.3 L176.4,617.2 L178.2,616.8 L180.0,617.4 L181.8,616.9 L183.6,617.9 L185.3,618.1 L187.1,618.0 L188.9,618.5 L190.7,618.1 L192.4,617.4 L194.1,617.4 L195.8,616.8 L197.5,616.3 L199.2,615.7 L200.9,615.7 L202.6,614.8 L204.5,614.3 L206.4,612.6 L208.3,611.7 L210.2,609.8 L212.1,609.3 L213.9,610.8 L215.7,611.7 L218.1,610.0 L220.1,610.8 L222.0,611.8 L224.0,611.7 L226.0,612.4 L228.0,611.9 L230.0,612.4 L231.6,612.6 L233.2,613.3 L234.8,613.4 L236.6,613.7 L238.3,615.3 L240.1,614.6 L241.9,614.1 L244.3,614.8 L246.7,616.5 L248.5,615.8 L250.2,615.5 L252.0,616.4 L253.8,615.8 L255.6,616.0 L257.4,617.2 L259.4,616.0 L261.4,615.4 L263.4,614.8 L265.4,615.1 L267.3,613.7 L269.3,614.1 L271.0,614.5 L272.7,615.1 L274.3,616.1 L276.0,616.5 L277.7,616.5 L279.7,617.2 L281.6,616.7 L283.6,617.2 L285.6,616.4 L287.6,615.7 L289.6,615.3 L291.4,615.1 L293.1,614.5 L294.9,612.6 L296.7,612.4 L298.7,612.9 L300.7,614.0 L302.7,615.3 L304.3,615.9 L305.9,617.1 L307.5,618.1 L309.2,617.9 L310.8,617.1 L312.5,616.4 L314.1,616.7 L315.8,616.5 L317.6,616.0 L319.4,616.0 L321.2,616.2 L323.0,615.6 L324.7,615.0 L326.5,614.9 L328.3,614.6 L330.1,614.1 L332.0,613.3 L333.9,614.4 L335.8,614.1 L337.7,614.1 L339.6,613.4 L341.5,613.8 L343.4,613.2 L345.4,613.3 L347.3,612.8 L349.2,613.4 L351.5,612.4 L353.9,611.0 L355.5,611.4 L357.1,612.5 L358.7,614.1 L360.3,613.9 L361.9,614.1 L363.5,614.8 L365.4,614.9 L367.3,614.9 L369.2,615.1 L371.1,615.7 L373.0,616.5 L374.8,615.3 L376.6,615.1 L378.3,614.0 L380.1,614.1 L381.9,614.9 L383.7,614.9 L385.5,614.5 L387.3,615.3 L389.1,614.4 L390.9,614.1 L392.9,613.5 L394.8,613.1 L396.8,612.9 L398.4,611.6 L400.0,611.8 L401.6,610.5 L404.0,608.2 L406.4,604.6 L408.1,601.6 L409.9,598.6 L411.7,592.0 L413.5,585.5 L415.9,590.3 L417.7,587.3 L419.5,585.5 L422.6,577.6 L425.4,584.8 L428.5,580.7 L430.6,587.6 L432.6,595.7 L435.0,596.9 L437.3,598.6 L439.3,600.5 L441.3,603.5 L443.3,605.3 L445.7,602.9 L448.0,604.1 L450.4,606.2 L452.4,602.8 L454.4,601.4 L456.4,598.1 L458.4,597.1 L460.4,595.5 L462.4,595.0 L464.8,596.6 L467.1,598.1 L469.2,599.8 L471.4,602.9 L474.3,599.8 L475.9,600.4 L477.5,601.6 L479.1,601.5 L481.9,590.3 L485.0,587.9 L486.7,588.6 L489.8,576.7 L491.6,582.5 L493.4,587.2 L495.7,585.5 L497.5,586.1 L499.3,586.2 L502.4,590.3 L504.4,593.5 L506.5,597.4 L508.2,595.2 L510.0,593.4 L512.1,597.0 L514.3,601.5 L515.9,600.3 L517.5,598.3 L519.1,596.7 L521.5,595.9 L523.9,594.3 L526.7,598.6 L529.1,599.0 L531.5,599.8 L533.9,604.2 L536.3,609.3 L538.1,609.9 L539.8,610.3 L541.6,610.3 L543.4,610.0 L545.3,610.1 L547.2,609.9 L549.1,609.5 L551.0,608.5 L552.9,608.6 L554.5,608.5 L556.1,608.1 L557.7,607.5 L559.3,607.3 L560.9,607.5 L562.5,607.7 L564.3,608.4 L566.0,610.0 L567.8,611.3 L569.6,611.7 L571.2,611.8 L572.8,612.7 L574.4,613.0 L576.0,613.1 L577.6,612.5 L579.2,612.9 L581.1,612.7 L583.0,613.0 L584.9,613.2 L586.8,613.4 L588.7,614.1 L590.5,614.6 L592.3,615.3 L594.1,615.5 L595.9,615.3 L597.6,615.8 L599.4,616.3 L601.2,615.6 L603.0,616.5 L604.7,616.2 L606.3,616.1 L608.0,615.5 L609.7,614.9 L611.4,614.1 L613.0,613.2 L614.7,613.5 L616.4,612.4 L618.0,612.6 L619.7,611.7 L622.0,613.9 L624.4,614.8 L626.2,614.2 L628.0,613.7 L629.8,614.0 L631.6,612.9 L633.5,613.6 L635.4,613.2 L637.3,613.5 L639.2,613.9 L641.1,614.8 L642.7,615.7 L644.3,615.8 L645.9,615.2 L647.5,616.4 L649.1,616.9 L650.7,616.5 L652.4,616.7 L654.0,616.2 L655.7,616.4 L657.3,615.7 L659.0,615.5 L660.7,616.7 L662.3,616.2 L664.0,616.0 L665.6,616.5 L667.3,615.8 L669.1,615.9 L670.9,616.7 L672.7,616.8 L674.5,616.5 L676.3,616.1 L678.1,616.2 L679.9,616.2 L681.6,616.1 L683.4,616.6 L685.2,616.2 L687.0,616.4 L688.8,616.5 L690.8,615.2 L692.7,615.5 L694.7,614.1 L696.4,614.1 L698.2,614.4 L699.9,614.7 L701.6,614.6 L703.2,614.8 L704.9,613.9 L706.6,614.4 L708.2,613.6 L709.9,613.4 L711.5,613.7 L713.2,614.0 L714.8,613.6 L716.5,614.5 L718.1,614.5 L719.8,615.2 L721.6,614.1 L723.5,614.7 L725.4,613.4 L727.2,613.4 L729.5,611.8 L731.7,610.2 L734.7,612.2 L736.5,612.3 L738.4,611.7 L740.2,613.0 L742.1,614.2 L743.9,614.0 L745.6,614.4 L747.4,614.5 L749.2,614.9 L751.0,614.0 L752.7,614.7 L754.5,614.7 L756.2,614.7 L757.8,615.2 L759.5,615.9 L761.2,616.4 L762.8,616.2 L764.5,616.4 L766.1,616.8 L767.8,617.2 L769.4,616.7 L771.1,617.1 L772.7,617.1 L774.4,617.2 L776.1,617.1 L777.7,617.2 L779.4,616.7 L781.0,616.7 L782.7,616.4 L784.3,617.0 L786.0,616.5 L787.6,616.6 L789.3,615.9 L791.0,616.4 L792.6,615.4 L794.3,615.7 L795.9,616.2 L797.6,616.0 L799.2,614.9 L800.9,614.8 L802.5,615.2 L804.2,615.2 L806.0,613.2 L807.9,612.0 L809.7,611.0 L811.9,612.3 L814.1,614.7 L815.8,614.5 L817.4,614.2 L819.1,613.4 L820.8,614.4 L822.4,613.7 L824.0,615.0 L825.7,615.3 L827.4,615.0 L829.0,615.9 L830.7,616.6 L832.3,617.0 L834.0,616.1 L835.6,617.4 L837.3,616.8 L839.0,617.1 L840.6,618.0 L842.3,618.0 L843.9,617.3 L845.6,617.9 L847.2,618.2 L848.9,618.4 L850.5,618.1 L852.2,617.9 L853.9,618.0 L855.5,618.5 L857.1,617.4 L858.8,618.1 L860.5,617.9 L862.1,617.3 L863.8,617.6 L865.4,618.0 L867.1,617.8 L868.7,617.7 L870.4,617.0 L872.0,618.2 L873.7,617.9 L875.3,618.0 L877.0,616.7 L878.7,616.9 L880.3,616.5 L882.0,617.4 L883.6,616.6 L885.3,616.3 L886.9,616.7 L888.6,616.7 L890.3,617.2 L891.9,616.9 L893.6,616.0 L895.2,615.7 L896.9,616.7 L898.5,616.0 L900.2,616.1 L901.9,615.1 L903.5,615.0 L905.2,615.7 L906.8,615.2 L908.5,615.2 L910.4,614.2 L912.2,614.9 L914.0,614.0 L915.9,613.4 L918.0,614.4 L920.0,614.0 L922.1,615.2 L923.8,615.7 L925.5,614.6 L927.1,615.7 L928.8,615.2 L930.0,615.2 L930,621 L10,621 Z" fill="#222a48" opacity="0.9"/>
<path d="M10.0,615.8 L11.4,614.1 L14.3,616.5 L16.1,615.9 L17.9,615.8 L19.9,616.5 L21.8,618.3 L23.8,619.3 L25.6,617.8 L27.4,617.6 L29.2,616.5 L31.0,615.8 L32.8,614.8 L34.5,615.0 L36.3,613.9 L38.1,614.1 L39.8,614.0 L41.5,613.5 L43.1,613.5 L44.8,614.0 L46.5,614.1 L48.3,615.3 L50.0,615.1 L51.8,616.0 L53.6,617.2 L55.2,617.1 L56.8,617.4 L58.4,616.6 L60.0,616.1 L61.6,616.7 L63.2,615.8 L65.6,612.5 L67.9,610.5 L69.7,609.2 L71.5,606.9 L73.3,601.9 L75.1,597.4 L76.8,600.5 L78.6,604.6 L80.4,604.9 L82.2,606.2 L84.6,610.5 L86.6,610.6 L88.6,611.7 L90.6,611.7 L92.9,612.8 L95.3,614.8 L97.7,615.2 L100.1,615.3 L101.9,613.3 L103.7,611.0 L105.7,608.8 L107.7,606.9 L109.8,609.4 L112.0,611.7 L114.0,611.9 L116.0,612.7 L118.0,614.1 L120.0,613.3 L122.0,613.4 L125.1,614.8 L126.9,613.8 L128.8,612.2 L130.6,611.0 L132.3,611.8 L134.1,613.2 L135.8,614.1 L138.2,614.9 L140.6,615.8 L143.0,614.8 L144.6,615.3 L146.2,616.8 L147.8,617.2 L149.7,617.0 L151.6,615.9 L153.5,615.9 L155.4,615.3 L157.3,614.8 L159.3,614.3 L161.3,613.1 L163.3,611.7 L165.1,613.5 L166.8,615.8 L168.7,616.8 L170.6,615.8 L172.6,616.5 L174.5,617.3 L176.4,617.2 L178.2,616.8 L180.0,617.4 L181.8,616.9 L183.6,617.9 L185.3,618.1 L187.1,618.0 L188.9,618.5 L190.7,618.1 L192.4,617.4 L194.1,617.4 L195.8,616.8 L197.5,616.3 L199.2,615.7 L200.9,615.7 L202.6,614.8 L204.5,614.3 L206.4,612.6 L208.3,611.7 L210.2,609.8 L212.1,609.3 L213.9,610.8 L215.7,611.7 L218.1,610.0 L220.1,610.8 L222.0,611.8 L224.0,611.7 L226.0,612.4 L228.0,611.9 L230.0,612.4 L231.6,612.6 L233.2,613.3 L234.8,613.4 L236.6,613.7 L238.3,615.3 L240.1,614.6 L241.9,614.1 L244.3,614.8 L246.7,616.5 L248.5,615.8 L250.2,615.5 L252.0,616.4 L253.8,615.8 L255.6,616.0 L257.4,617.2 L259.4,616.0 L261.4,615.4 L263.4,614.8 L265.4,615.1 L267.3,613.7 L269.3,614.1 L271.0,614.5 L272.7,615.1 L274.3,616.1 L276.0,616.5 L277.7,616.5 L279.7,617.2 L281.6,616.7 L283.6,617.2 L285.6,616.4 L287.6,615.7 L289.6,615.3 L291.4,615.1 L293.1,614.5 L294.9,612.6 L296.7,612.4 L298.7,612.9 L300.7,614.0 L302.7,615.3 L304.3,615.9 L305.9,617.1 L307.5,618.1 L309.2,617.9 L310.8,617.1 L312.5,616.4 L314.1,616.7 L315.8,616.5 L317.6,616.0 L319.4,616.0 L321.2,616.2 L323.0,615.6 L324.7,615.0 L326.5,614.9 L328.3,614.6 L330.1,614.1 L332.0,613.3 L333.9,614.4 L335.8,614.1 L337.7,614.1 L339.6,613.4 L341.5,613.8 L343.4,613.2 L345.4,613.3 L347.3,612.8 L349.2,613.4 L351.5,612.4 L353.9,611.0 L355.5,611.4 L357.1,612.5 L358.7,614.1 L360.3,613.9 L361.9,614.1 L363.5,614.8 L365.4,614.9 L367.3,614.9 L369.2,615.1 L371.1,615.7 L373.0,616.5 L374.8,615.3 L376.6,615.1 L378.3,614.0 L380.1,614.1 L381.9,614.9 L383.7,614.9 L385.5,614.5 L387.3,615.3 L389.1,614.4 L390.9,614.1 L392.9,613.5 L394.8,613.1 L396.8,612.9 L398.4,611.6 L400.0,611.8 L401.6,610.5 L404.0,608.2 L406.4,604.6 L408.1,601.6 L409.9,598.6 L411.7,592.0 L413.5,585.5 L415.9,590.3 L417.7,587.3 L419.5,585.5 L422.6,577.6 L425.4,584.8 L428.5,580.7 L430.6,587.6 L432.6,595.7 L435.0,596.9 L437.3,598.6 L439.3,600.5 L441.3,603.5 L443.3,605.3 L445.7,602.9 L448.0,604.1 L450.4,606.2 L452.4,602.8 L454.4,601.4 L456.4,598.1 L458.4,597.1 L460.4,595.5 L462.4,595.0 L464.8,596.6 L467.1,598.1 L469.2,599.8 L471.4,602.9 L474.3,599.8 L475.9,600.4 L477.5,601.6 L479.1,601.5 L481.9,590.3 L485.0,587.9 L486.7,588.6 L489.8,576.7 L491.6,582.5 L493.4,587.2 L495.7,585.5 L497.5,586.1 L499.3,586.2 L502.4,590.3 L504.4,593.5 L506.5,597.4 L508.2,595.2 L510.0,593.4 L512.1,597.0 L514.3,601.5 L515.9,600.3 L517.5,598.3 L519.1,596.7 L521.5,595.9 L523.9,594.3 L526.7,598.6 L529.1,599.0 L531.5,599.8 L533.9,604.2 L536.3,609.3 L538.1,609.9 L539.8,610.3 L541.6,610.3 L543.4,610.0 L545.3,610.1 L547.2,609.9 L549.1,609.5 L551.0,608.5 L552.9,608.6 L554.5,608.5 L556.1,608.1 L557.7,607.5 L559.3,607.3 L560.9,607.5 L562.5,607.7 L564.3,608.4 L566.0,610.0 L567.8,611.3 L569.6,611.7 L571.2,611.8 L572.8,612.7 L574.4,613.0 L576.0,613.1 L577.6,612.5 L579.2,612.9 L581.1,612.7 L583.0,613.0 L584.9,613.2 L586.8,613.4 L588.7,614.1 L590.5,614.6 L592.3,615.3 L594.1,615.5 L595.9,615.3 L597.6,615.8 L599.4,616.3 L601.2,615.6 L603.0,616.5 L604.7,616.2 L606.3,616.1 L608.0,615.5 L609.7,614.9 L611.4,614.1 L613.0,613.2 L614.7,613.5 L616.4,612.4 L618.0,612.6 L619.7,611.7 L622.0,613.9 L624.4,614.8 L626.2,614.2 L628.0,613.7 L629.8,614.0 L631.6,612.9 L633.5,613.6 L635.4,613.2 L637.3,613.5 L639.2,613.9 L641.1,614.8 L642.7,615.7 L644.3,615.8 L645.9,615.2 L647.5,616.4 L649.1,616.9 L650.7,616.5 L652.4,616.7 L654.0,616.2 L655.7,616.4 L657.3,615.7 L659.0,615.5 L660.7,616.7 L662.3,616.2 L664.0,616.0 L665.6,616.5 L667.3,615.8 L669.1,615.9 L670.9,616.7 L672.7,616.8 L674.5,616.5 L676.3,616.1 L678.1,616.2 L679.9,616.2 L681.6,616.1 L683.4,616.6 L685.2,616.2 L687.0,616.4 L688.8,616.5 L690.8,615.2 L692.7,615.5 L694.7,614.1 L696.4,614.1 L698.2,614.4 L699.9,614.7 L701.6,614.6 L703.2,614.8 L704.9,613.9 L706.6,614.4 L708.2,613.6 L709.9,613.4 L711.5,613.7 L713.2,614.0 L714.8,613.6 L716.5,614.5 L718.1,614.5 L719.8,615.2 L721.6,614.1 L723.5,614.7 L725.4,613.4 L727.2,613.4 L729.5,611.8 L731.7,610.2 L734.7,612.2 L736.5,612.3 L738.4,611.7 L740.2,613.0 L742.1,614.2 L743.9,614.0 L745.6,614.4 L747.4,614.5 L749.2,614.9 L751.0,614.0 L752.7,614.7 L754.5,614.7 L756.2,614.7 L757.8,615.2 L759.5,615.9 L761.2,616.4 L762.8,616.2 L764.5,616.4 L766.1,616.8 L767.8,617.2 L769.4,616.7 L771.1,617.1 L772.7,617.1 L774.4,617.2 L776.1,617.1 L777.7,617.2 L779.4,616.7 L781.0,616.7 L782.7,616.4 L784.3,617.0 L786.0,616.5 L787.6,616.6 L789.3,615.9 L791.0,616.4 L792.6,615.4 L794.3,615.7 L795.9,616.2 L797.6,616.0 L799.2,614.9 L800.9,614.8 L802.5,615.2 L804.2,615.2 L806.0,613.2 L807.9,612.0 L809.7,611.0 L811.9,612.3 L814.1,614.7 L815.8,614.5 L817.4,614.2 L819.1,613.4 L820.8,614.4 L822.4,613.7 L824.0,615.0 L825.7,615.3 L827.4,615.0 L829.0,615.9 L830.7,616.6 L832.3,617.0 L834.0,616.1 L835.6,617.4 L837.3,616.8 L839.0,617.1 L840.6,618.0 L842.3,618.0 L843.9,617.3 L845.6,617.9 L847.2,618.2 L848.9,618.4 L850.5,618.1 L852.2,617.9 L853.9,618.0 L855.5,618.5 L857.1,617.4 L858.8,618.1 L860.5,617.9 L862.1,617.3 L863.8,617.6 L865.4,618.0 L867.1,617.8 L868.7,617.7 L870.4,617.0 L872.0,618.2 L873.7,617.9 L875.3,618.0 L877.0,616.7 L878.7,616.9 L880.3,616.5 L882.0,617.4 L883.6,616.6 L885.3,616.3 L886.9,616.7 L888.6,616.7 L890.3,617.2 L891.9,616.9 L893.6,616.0 L895.2,615.7 L896.9,616.7 L898.5,616.0 L900.2,616.1 L901.9,615.1 L903.5,615.0 L905.2,615.7 L906.8,615.2 L908.5,615.2 L910.4,614.2 L912.2,614.9 L914.0,614.0 L915.9,613.4 L918.0,614.4 L920.0,614.0 L922.1,615.2 L923.8,615.7 L925.5,614.6 L927.1,615.7 L928.8,615.2 L930.0,615.2" fill="none" stroke="#4a6cf7" stroke-width="1.4" stroke-linejoin="round"/>
</svg>
<!-- group 1 -->
<div class="grp" style="left:10px;width:148px">
  <div class="sel" style="left:3px;width:58px"></div>
</div>
<div class="t" style="left:23px;top:23px;color:#fff">Price</div>
<div class="t" style="left:84px;top:23px">Mkt Cap</div>
<!-- group 2 -->
<div class="grp" style="left:168px;width:187px">
  <div class="sel" style="left:2.5px;width:44.5px"></div>
</div>
<svg class="abs" style="left:180px;top:24px" width="20" height="17" viewBox="0 0 20 17">
  <path d="M2.4,2.6 V14.9 H17.5" fill="none" stroke="#fff" stroke-width="1.7" stroke-linecap="round" stroke-linejoin="round"/>
  <path d="M5.6,11.6 C10,11.6 11.5,2.9 17.2,2.9" fill="none" stroke="#fff" stroke-width="1.7" stroke-linecap="round"/>
</svg>
<svg class="abs" style="left:229px;top:24px" width="18" height="17" viewBox="0 0 18 17">
  <g fill="none" stroke="#a1a7bb" stroke-width="1.6">
  <line x1="4.8" y1="2" x2="4.8" y2="15.7"/><rect x="2.8" y="9.1" width="4" height="3.6" rx="1" fill="#303344"/>
  <line x1="13.4" y1="2" x2="13.4" y2="15.7"/><rect x="11.3" y="4.7" width="4.2" height="6.8" rx="1.1" fill="#303344"/>
  </g>
</svg>
<div class="t" style="left:253px;top:23px">TradingView</div>
<!-- compare -->
<div class="grp" style="left:559px;width:110px"></div>
<div class="t" style="left:569px;top:23px;color:#676c82;font-weight:normal;-webkit-text-stroke:0.45px #676c82;letter-spacing:0.35px">Compare</div>
<svg class="abs" style="left:642px;top:28px" width="14" height="10" viewBox="0 0 14 10">
  <path d="M2,2.3 L7,7.2 L12,2.3" fill="none" stroke="#9ea3b6" stroke-width="1.5" stroke-linecap="round" stroke-linejoin="round"/>
</svg>
<!-- timeframe -->
<div class="grp" style="left:679px;width:322px">
  <div class="sel" style="left:5px;width:48px"></div>
</div>
<div class="t" style="left:693px;top:23px;color:#fff;font-size:16px">24h</div>
<div class="t" style="left:743px;top:23px">1W</div>
<div class="t" style="left:788px;top:23px">1M</div>
<div class="t" style="left:831px;top:23px">1Y</div>
<div class="t" style="left:872px;top:23px">All</div>
<div class="abs" style="left:903px;top:23px;width:1px;height:20px;background:#4a4e5e"></div>
<div class="t" style="left:916px;top:23px">Log</div>
<div class="abs" style="left:955px;top:23px;width:1px;height:20px;background:#4a4e5e"></div>
<svg class="abs" style="left:969px;top:24px" width="19" height="17" viewBox="0 0 19 17">
  <g stroke="#a1a7bb" stroke-width="1.6" fill="#303344">
  <line x1="2" y1="3.8" x2="17" y2="3.8"/><line x1="2" y1="8.8" x2="17" y2="8.8"/><line x1="2" y1="13.9" x2="17" y2="13.9"/>
  <circle cx="12" cy="3.8" r="1.7"/><circle cx="7" cy="8.8" r="1.7"/><circle cx="12" cy="13.9" r="1.7"/>
  </g>
</svg>

<!-- labels -->
<div class="yl" style="top:118.5px">0.202</div>
<div class="yl" style="top:170.4px">0.200</div>
<div class="yl" style="top:222.3px">0.197</div>
<div class="yl" style="top:274.2px">0.195</div>
<div class="yl" style="top:326.1px">0.192</div>
<div class="yl" style="top:378.0px">0.190</div>
<div class="yl" style="top:429.9px">0.187</div>
<div class="abs" style="left:12.5px;top:135px;width:54px;height:27.3px;background:#2a2d38;border-radius:6px;opacity:.9"></div>
<div class="abs" style="left:18px;top:140px;font-size:14.5px;line-height:18px;color:#b4b8c6;font-weight:bold;white-space:nowrap">0.2016</div>
<div class="abs" style="left:930px;top:350px;width:50px;height:32px;background:#ea3943;border-radius:4px"></div>
<div class="abs" style="left:937px;top:357px;font-size:14.5px;line-height:18px;color:#fff;font-weight:bold;white-space:nowrap">0.190</div>
<div class="abs" style="left:945px;top:488px;font-size:14.5px;line-height:18px;color:#a1a7bb;font-weight:bold">USD</div>

<div class="xl" style="left:9px">6:00 PM</div>
<div class="xl" style="left:93px">9:00 PM</div>
<div class="xl" style="left:210.5px;letter-spacing:-0.5px">21 Jan</div>
<div class="xl" style="left:314px">3:00 AM</div>
<div class="xl" style="left:424px">6:00 AM</div>
<div class="xl" style="left:535px">9:00 AM</div>
<div class="xl" style="left:642px">12:00 PM</div>
<div class="xl" style="left:756px">3:00 PM</div>
<div class="xl" style="left:866px">6:00 PM</div>

<div class="nl" style="left:57px">2018</div>
<div class="nl" style="left:163px">2019</div>
<div class="nl" style="left:269px">2020</div>
<div class="nl" style="left:376px">2021</div>
<div class="nl" style="left:482px">2022</div>
<div class="nl" style="left:588px">2023</div>
<div class="nl" style="left:694px">2024</div>
<div class="nl" style="left:801px">2025</div>
<div class="nl" style="left:907px">2026</div>

<!-- CMC watermark -->
<svg class="abs" style="left:734px;top:426px" width="35" height="36" viewBox="0 0 35 36">
  <g fill="none" stroke="#dfe3ec" stroke-width="2.6" stroke-linecap="round" stroke-linejoin="round">
  <path d="M26.3,26.6 A13.3,13.3 0 1 1 30.7,17.6"/>
  <path d="M30.7,17.6 C30.5,22.5 27,22.5 26.3,20 L24.3,14 C23.6,12 22.5,12 21.8,13.8 L17.6,20.6 C16.9,21.9 16.1,21.6 16,20.1 L15.3,13.8 C15,12 14,12 13.3,13.5 L6.8,23.5"/>
  </g>
</svg>
<div class="abs" style="left:775px;top:433px;font-size:18px;line-height:22px;color:#dfe3ec;font-weight:normal;-webkit-text-stroke:0.6px #dfe3ec;letter-spacing:0.9px;white-space:nowrap">CoinMarketCap</div>

<!-- history button -->
<svg class="abs" style="left:8px;top:536px" width="40" height="34" viewBox="8 536 40 34">
  <path d="M10.2,553 C13,550 15.5,546.5 18.3,543.6 A15.1,15.1 0 1 1 18.3,562.4 C15.5,559.5 13,556 10.2,553 Z" fill="#6a6f89"/>
  <g transform="translate(29.8,552.8) scale(0.86) translate(-29.6,-552.6)">
  <g fill="none" stroke="#fff" stroke-width="2" stroke-linecap="round">
  <path d="M23.4,550.2 A6.9,6.9 0 1 1 25.2,557.6"/>
  <path d="M29.6,548.6 V552.6 L32.8,554.8" stroke-width="1.6"/>
  </g>
  <path d="M20.6,548.2 L26.2,549.6 L22.3,553.6 Z" fill="#fff"/>
  </g>
</svg>
<!-- analyze -->
<svg class="abs" style="left:822px;top:532px" width="110" height="38" viewBox="822 532 110 38">
  <path d="M870.8,538.2 L875.5,533.5 L880.2,538.2 Z" fill="#3861fb"/>
  <rect x="823" y="538" width="107" height="30" rx="15" fill="#3861fb"/>
  <g fill="none" stroke="#fff" stroke-width="1.7" stroke-linecap="round" stroke-linejoin="round">
  <g transform="translate(0,-0.9)">
  <path d="M845.6,558 A7.1,7.1 0 0 1 835.6,558.6 L832.6,560.9 L833.6,556.4 A7.1,7.1 0 1 1 847.2,553.2" stroke-width="1.6"/>
  <path d="M835.6,554.6 L838.2,550.4 C838.6,549.7 839.1,549.8 839.2,550.6 L839.7,554.2 C839.8,554.8 840.2,554.8 840.5,554.2 L842.5,550.4 C842.9,549.7 843.4,549.8 843.6,550.6 L844.5,553.8 C845,555 846.6,555.2 847.2,553.2" stroke-width="1.6"/>
  </g>
  <path d="M911.5,549.5 L915.5,553.5 L911.5,557.5"/>
  </g>
</svg>
<div class="abs" style="left:852px;top:545px;font-size:14px;line-height:17px;color:#fff;font-weight:bold;white-space:nowrap">Analyze</div>

<!-- nav handle -->
<div class="abs" style="left:919.7px;top:583.8px;width:18px;height:24.6px;background:rgba(38,41,52,0.82);border-radius:9px"></div>
<div class="abs" style="left:925.9px;top:591px;width:2px;height:9px;background:#b8bccb"></div>
<div class="abs" style="left:929.7px;top:591px;width:1.7px;height:9px;background:#b8bccb"></div>
</body></html>
